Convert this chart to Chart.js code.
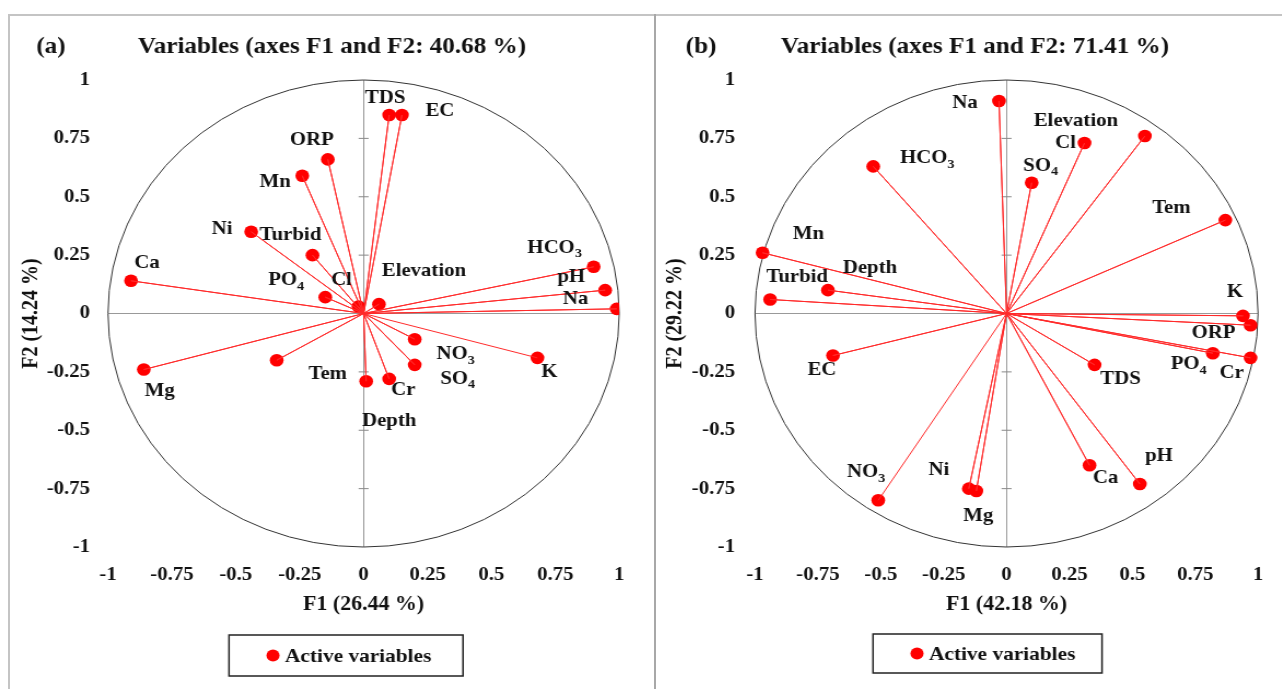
<!DOCTYPE html>
<html>
<head>
<meta charset="utf-8">
<script src="https://cdn.jsdelivr.net/npm/chart.js@4.4.0/dist/chart.umd.min.js"></script>
<style>
body{margin:0;background:#fff;width:1282px;height:689px;overflow:hidden;position:relative}
.wrap{position:absolute;top:0;height:689px;transform:scaleX(1.094);transform-origin:0 0}
#wa{left:0}
#wb{left:655px}
.hl{position:absolute;left:8px;top:14px;width:1274px;height:2px;background:#c4c4c4}
.vl{position:absolute;left:8px;top:14px;width:2px;height:675px;background:#c4c4c4}
.vm{position:absolute;left:654px;top:14px;width:2px;height:675px;background:#a8a8a8;z-index:2}
</style>
</head>
<body>
<div class="hl"></div><div class="vl"></div>
<div class="wrap" id="wa"><canvas id="chartA" width="598" height="689"></canvas></div>
<div class="wrap" id="wb"><canvas id="chartB" width="573" height="689"></canvas></div>
<div class="vm"></div>
<script>
// panel (a)
var varsA = ['TDS','EC','ORP','Mn','Ni','Turbid','Ca','PO4','Cl','Elevation','HCO3','pH','Na','Mg','Tem','Depth','Cr','NO3','SO4','K'];
var f1A = [0.10,0.15,-0.14,-0.24,-0.44,-0.20,-0.91,-0.15,-0.02,0.06,0.90,0.945,0.99,-0.86,-0.34,0.01,0.10,0.20,0.20,0.68];
var f2A = [0.85,0.85,0.66,0.59,0.35,0.25,0.14,0.07,0.03,0.04,0.20,0.10,0.02,-0.24,-0.20,-0.29,-0.28,-0.11,-0.22,-0.19];
var titleA = 'Variables (axes F1 and F2: 40.68 %)';
var xTitleA = 'F1 (26.44 %)';
var yTitleA = 'F2 (14.24 %)';

// panel (b)
var varsB = ['Na','Elevation','Cl','SO4','HCO3','Tem','Mn','Depth','Turbid','K','ORP','EC','TDS','PO4','Cr','pH','Ca','Ni','Mg','NO3'];
var f1B = [-0.03,0.55,0.31,0.10,-0.53,0.87,-0.97,-0.71,-0.94,0.94,0.97,-0.69,0.35,0.82,0.97,0.53,0.33,-0.15,-0.12,-0.51];
var f2B = [0.91,0.76,0.73,0.56,0.63,0.40,0.26,0.10,0.06,-0.01,-0.05,-0.18,-0.22,-0.17,-0.19,-0.73,-0.65,-0.75,-0.76,-0.80];
var titleB = 'Variables (axes F1 and F2: 71.41 %)';
var xTitleB = 'F1 (42.18 %)';
var yTitleB = 'F2 (29.22 %)';

var tickVals = [-1,-0.75,-0.5,-0.25,0,0.25,0.5,0.75,1];
var legendText = 'Active variables';

// label offsets in screen px (text centre relative to the point)
var offA = [[-4,-17],[38,-4],[-16,-19],[-27,6],[-29,-3],[-22,-20],[16,-18],[-39,-17],[-17,-26],[45,-33],[-39,-19],[-34,-13],[-41,-10],[16,22],[51,14],[23,40],[14,11],[41,15],[43,14],[12,14]];
var offB = [[-34,2],[-69,-15],[-19,0],[9,-17],[54,-8],[-54,-12],[46,-19],[42,-22],[27,-22],[-8,-24],[-37,8],[-11,15],[26,14],[-24,11],[-19,15],[19,-28],[16,13],[-30,-19],[2,25],[-12,-28]];

var S = 1.094; // the original figure is stretched horizontally
var FONT = '"Liberation Serif", "Times New Roman", serif';

function drawSubText(ctx, txt, cx, cy) {
    var m = txt.match(/^(.*?)(\d)$/);
    var main = m ? m[1] : txt;
    var sub = m ? m[2] : '';
    ctx.font = 'bold 19px ' + FONT;
    var w1 = ctx.measureText(main).width;
    ctx.font = 'bold 13px ' + FONT;
    var w2 = sub ? ctx.measureText(sub).width : 0;
    var x0 = cx - (w1 + w2) / 2;
    ctx.textAlign = 'left';
    ctx.textBaseline = 'middle';
    ctx.font = 'bold 19px ' + FONT;
    ctx.fillText(main, x0, cy);
    if (sub) {
        ctx.font = 'bold 13px ' + FONT;
        ctx.fillText(sub, x0 + w1, cy + 6);
    }
}

var pcaPlugin = {
    id: 'pca',
    beforeDatasetsDraw: function(chart) {
        var ctx = chart.ctx, xs = chart.scales.x, ys = chart.scales.y;
        var cx = xs.getPixelForValue(0), cy = ys.getPixelForValue(0);
        var rx = xs.getPixelForValue(1) - cx, ry = cy - ys.getPixelForValue(1);
        ctx.save();
        ctx.strokeStyle = '#333';
        ctx.lineWidth = 1;
        ctx.beginPath();
        ctx.ellipse(cx, cy, rx, ry, 0, 0, Math.PI * 2);
        ctx.stroke();
        // small tick marks on the vertical zero line
        ctx.strokeStyle = '#888';
        tickVals.forEach(function(v) {
            if (v === 0 || Math.abs(v) === 1) return;
            var py = ys.getPixelForValue(v);
            ctx.beginPath();
            ctx.moveTo(cx - 5 / S, py);
            ctx.lineTo(cx + 5 / S, py);
            ctx.stroke();
        });
        ctx.restore();
    },
    afterDatasetsDraw: function(chart, args, opts) {
        var ctx = chart.ctx;
        var meta = chart.getDatasetMeta(1);
        ctx.save();
        ctx.fillStyle = '#111';
        meta.data.forEach(function(pt, i) {
            var o = opts.offsets[i];
            drawSubText(ctx, opts.names[i], pt.x + o[0] / S, pt.y + o[1]);
        });
        // panel letter + title
        ctx.font = 'bold 23px ' + FONT;
        ctx.textAlign = 'center';
        ctx.textBaseline = 'middle';
        ctx.fillText(opts.letter, opts.letterX / S, 47);
        ctx.fillText(opts.title, opts.titleX / S, 47);
        // legend box
        var b = opts.box;
        var bx = b[0] / S, bw = b[2] / S;
        ctx.strokeStyle = '#222';
        ctx.lineWidth = 1.5;
        ctx.strokeRect(bx, b[1], bw, b[3]);
        var ds = chart.data.datasets[1];
        ctx.fillStyle = ds.backgroundColor;
        ctx.beginPath();
        ctx.arc(bx + 44 / S, b[1] + b[3] / 2, 6, 0, Math.PI * 2);
        ctx.fill();
        ctx.fillStyle = '#111';
        ctx.font = 'bold 19.5px ' + FONT;
        ctx.textAlign = 'left';
        ctx.fillText(ds.label, bx + 56 / S, b[1] + b[3] / 2 + 1);
        ctx.restore();
    }
};

function makeChart(id, names, f1, f2, offs, o) {
    var rays = [];
    for (var i = 0; i < f1.length; i++) {
        rays.push({x: 0, y: 0});
        rays.push({x: f1[i], y: f2[i]});
    }
    var pts = [];
    for (var i = 0; i < f1.length; i++) {
        pts.push({x: f1[i], y: f2[i]});
    }
    var tickFont = {family: FONT, size: 19, weight: 'bold'};
    var titleFont = {family: FONT, size: 20, weight: 'bold'};
    return new Chart(document.getElementById(id), {
        type: 'scatter',
        data: {
            datasets: [{
                type: 'line',
                label: 'rays',
                data: rays,
                borderColor: '#ff2a2a',
                borderWidth: 1,
                pointRadius: 0,
                tension: 0,
                fill: false
            },
            {
                label: legendText,
                data: pts,
                pointRadius: 6.3,
                pointHoverRadius: 6.3,
                backgroundColor: '#ff0000',
                borderColor: '#ff0000',
                borderWidth: 0
            }]
        },
        options: {
            responsive: false,
            animation: false,
            events: [],
            layout: {padding: {top: 80, right: o.rp / S, left: 0, bottom: 0}},
            plugins: {
                legend: {display: false},
                tooltip: {enabled: false},
                pca: {names: names, offsets: offs, letter: o.letter, letterX: o.letterX,
                      title: o.title, titleX: o.titleX, box: o.box}
            },
            scales: {
                x: {
                    min: -1, max: 1,
                    afterBuildTicks: function(s) { s.ticks = tickVals.map(function(v) { return {value: v}; }); },
                    afterFit: function(s) { s.height = 142; },
                    border: {display: false},
                    grid: {
                        drawTicks: false,
                        color: function(c) { return c.tick && c.tick.value === 0 ? '#999' : 'rgba(0,0,0,0)'; }
                    },
                    ticks: {
                        color: '#111', font: tickFont, padding: 17, maxRotation: 0, autoSkip: false,
                        callback: function(v) { return String(v); }
                    },
                    title: {display: true, text: o.xTitle, color: '#111', font: titleFont, padding: {top: 0, bottom: 72}}
                },
                y: {
                    min: -1, max: 1,
                    afterBuildTicks: function(s) { s.ticks = tickVals.map(function(v) { return {value: v}; }); },
                    afterFit: function(s) { s.width = o.yw / S; },
                    border: {display: false},
                    grid: {
                        drawTicks: false,
                        color: function(c) { return c.tick && c.tick.value === 0 ? '#999' : 'rgba(0,0,0,0)'; }
                    },
                    ticks: {
                        color: '#111', font: tickFont, padding: o.yp / S, autoSkip: false,
                        callback: function(v) { return String(v); }
                    },
                    title: {display: true, text: o.yTitle, color: '#111', font: titleFont, padding: {top: o.ytx / S - 12, bottom: 0}}
                }
            }
        },
        plugins: [pcaPlugin]
    });
}

makeChart('chartA', varsA, f1A, f2A, offA, {
    rp: 35, yw: 108, yp: 18, ytx: 31, letter: '(a)', letterX: 51, title: titleA, titleX: 332,
    xTitle: xTitleA, yTitle: yTitleA, box: [229, 635, 234, 41]
});
makeChart('chartB', varsB, f1B, f2B, offB, {
    rp: 22, yw: 100, yp: 20, ytx: 21, letter: '(b)', letterX: 46, title: titleB, titleX: 320,
    xTitle: xTitleB, yTitle: yTitleB, box: [218, 634, 229, 39]
});
</script>
</body>
</html>
